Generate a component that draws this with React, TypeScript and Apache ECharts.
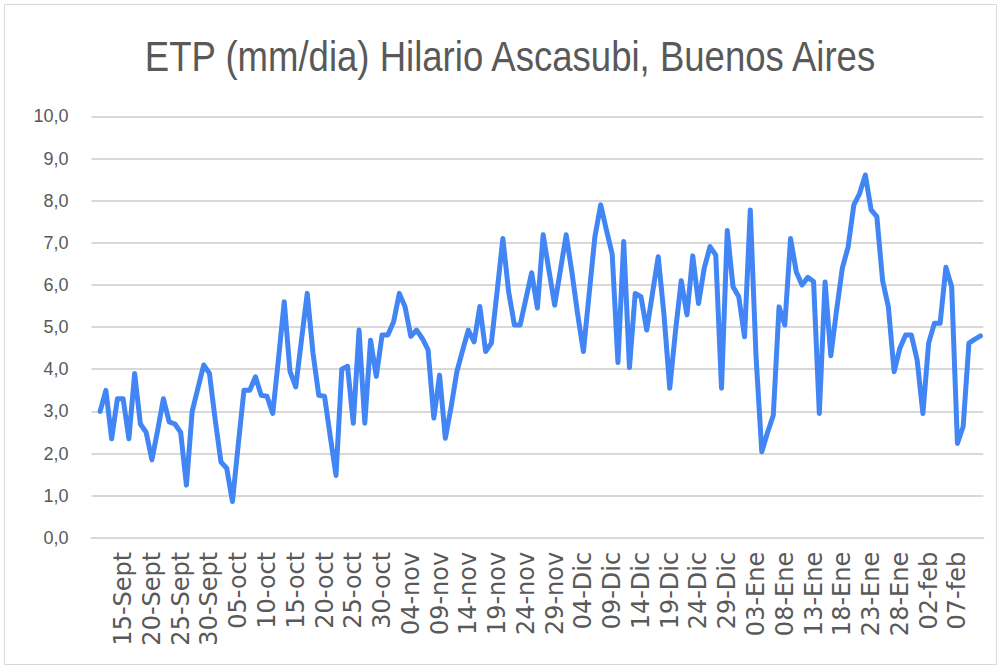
import React, { useEffect, useRef } from "react";
import * as echarts from "echarts";

const TITLE = "ETP (mm/dia) Hilario Ascasubi, Buenos Aires";

// Category months (day ranges) for the daily axis
const MONTHS = [
  { name: "Sept", first: 10, last: 30 },
  { name: "oct", first: 1, last: 31 },
  { name: "nov", first: 1, last: 30 },
  { name: "Dic", first: 1, last: 31 },
  { name: "Ene", first: 1, last: 31 },
  { name: "feb", first: 1, last: 11 },
];

// Daily ETP (mm/day); first slot (10-Sept) is empty
const ETP = [
  null,
  3.0, 3.5, 2.35, 3.3, 3.3, 2.35, 3.9, 2.7, 2.5, 1.85,
  2.55, 3.3, 2.75, 2.7, 2.5, 1.25, 3.0, 3.55, 4.1, 3.9,
  2.8, 1.8, 1.65, 0.86, 2.2, 3.5, 3.5, 3.82, 3.38, 3.36,
  2.95, 4.25, 5.6, 3.95, 3.58, 4.7, 5.8, 4.38, 3.38, 3.36,
  2.4, 1.48, 4.0, 4.07, 2.72, 4.93, 2.72, 4.69, 3.83, 4.81,
  4.81, 5.12, 5.8, 5.48, 4.78, 4.93, 4.73, 4.46, 2.84, 3.86,
  2.36, 3.1, 3.94, 4.45, 4.93, 4.65, 5.49, 4.42, 4.62, 5.85,
  7.1, 5.84, 5.05, 5.05, 5.67, 6.29, 5.45, 7.19, 6.35, 5.52,
  6.35, 7.19, 6.3, 5.3, 4.42, 5.8, 7.15, 7.9, 7.3, 6.73,
  4.16, 7.03, 4.04, 5.8, 5.72, 4.93, 5.8, 6.67, 5.3, 3.55,
  4.9, 6.1, 5.29, 6.69, 5.56, 6.4, 6.91, 6.71, 3.55, 7.29,
  5.96, 5.72, 4.77, 7.78, 4.3, 2.04, 2.5, 2.91, 5.48, 5.05,
  7.1, 6.31, 6.0, 6.18, 6.08, 2.95, 6.07, 4.32, 5.4, 6.4,
  6.9, 7.9, 8.17, 8.61, 7.78, 7.62, 6.1, 5.48, 3.94, 4.5,
  4.81, 4.81, 4.22, 2.95, 4.62, 5.09, 5.09, 6.42, 5.96, 2.24,
  2.64, 4.62, 4.71, 4.79,
];

const Y_MIN = 0;
const Y_MAX = 10;
const Y_STEP = 1;
const LABEL_EVERY = 5;

const CATEGORIES: string[] = [];
MONTHS.forEach((m) => {
  for (let d = m.first; d <= m.last; d++) {
    CATEGORIES.push(String(d).padStart(2, "0") + "-" + m.name);
  }
});

const SANS = "'Liberation Sans', Arial, sans-serif";

export default function App() {
  const ref = useRef<HTMLDivElement>(null);
  useEffect(() => {
    if (!ref.current) return;
    const chart = echarts.init(ref.current, null, { renderer: "svg" });
    chart.setOption({
      animation: false,
      backgroundColor: "#ffffff",
      graphic: [
        {
          type: "rect",
          shape: { x: 4.5, y: 4.5, width: 992, height: 660 },
          style: { fill: "none", stroke: "#d9d9d9", lineWidth: 1 },
          silent: true,
        },
        {
          type: "text",
          x: 510,
          y: 56,
          scaleX: 0.87,
          scaleY: 1,
          style: {
            text: TITLE,
            fontFamily: SANS,
            fontSize: 42,
            fill: "#595959",
            textAlign: "center",
            textVerticalAlign: "middle",
          },
          silent: true,
        },
      ],
      grid: { left: 91.5, right: 17.7, top: 116.4, bottom: 131.2, containLabel: false },
      xAxis: {
        type: "category",
        data: CATEGORIES,
        boundaryGap: true,
        axisTick: { show: false },
        axisLine: { lineStyle: { color: "#d9d9d9", width: 2 } },
        axisLabel: {
          interval: (index: number) => index > 0 && index % LABEL_EVERY === 0,
          rotate: 90,
          margin: 14,
          fontFamily: "'DejaVu Sans', sans-serif",
          fontSize: 24,
          color: "#595959",
        },
        splitLine: { show: false },
      },
      yAxis: {
        type: "value",
        min: Y_MIN,
        max: Y_MAX,
        interval: Y_STEP,
        axisLine: { show: false },
        axisTick: { show: false },
        axisLabel: {
          margin: 23,
          fontFamily: SANS,
          fontSize: 18,
          color: "#595959",
          formatter: (v: number) => v.toFixed(1).replace(".", ","),
        },
        splitLine: { lineStyle: { color: "#d9d9d9", width: 2 } },
      },
      series: [
        {
          type: "line",
          data: ETP,
          showSymbol: false,
          symbol: "none",
          connectNulls: false,
          lineStyle: { color: "#4285F4", width: 5, join: "round", cap: "round" },
        },
      ],
    });
    return () => chart.dispose();
  }, []);
  return (
    <div
      ref={ref}
      style={{ position: "absolute", left: 0, top: 0, width: 1001, height: 669 }}
    />
  );
}
